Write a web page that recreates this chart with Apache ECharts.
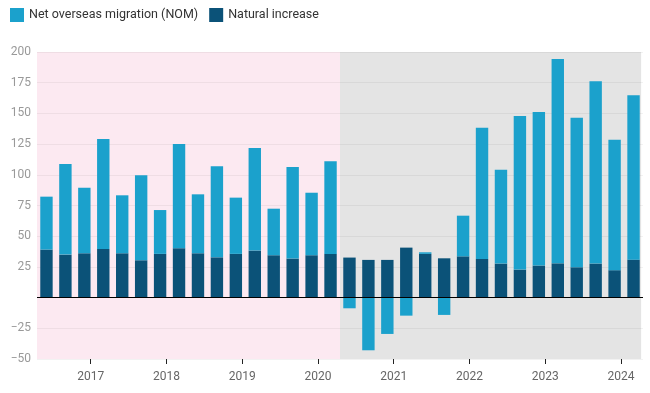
<!DOCTYPE html>
<html>
<head>
<meta charset="utf-8">
<script src="https://cdn.jsdelivr.net/npm/echarts@6/dist/echarts.min.js"></script>
<style>
html,body{margin:0;padding:0;background:#fff;}
#chart{width:650px;height:393px;}
</style>
</head>
<body>
<div id="chart"></div>
<script>
// Quarter (month the quarter ends) for each bar
const quarters = ['2016-06','2016-09','2016-12','2017-03','2017-06','2017-09','2017-12','2018-03',
  '2018-06','2018-09','2018-12','2019-03','2019-06','2019-09','2019-12','2020-03',
  '2020-06','2020-09','2020-12','2021-03','2021-06','2021-09','2021-12','2022-03',
  '2022-06','2022-09','2022-12','2023-03','2023-06','2023-09','2023-12','2024-03'];
const nom = [43.1,73.8,53.4,89.6,47.2,69.2,35.7,84.9,48.0,74.1,45.8,83.5,37.9,74.6,50.9,75.4,
  -8.7,-42.9,-29.6,-14.7,1.3,-14.1,33.1,106.9,76.5,125.1,125.0,166.4,121.8,148.4,106.3,133.8];
const natural = [39.1,35.0,36.1,39.6,36.1,30.4,35.6,40.2,36.1,32.8,35.6,38.3,34.5,31.8,34.5,35.6,
  32.6,30.7,30.7,40.7,35.6,32.0,33.6,31.5,27.7,22.8,26.1,27.9,24.7,27.7,22.3,30.9];
const seriesNames = ['Net overseas migration (NOM)', 'Natural increase'];
const yTicks = {min: -50, max: 200, interval: 25};
// Shaded periods, in months from the axis start (May 2016)
const periods = [[0, 48, '#fce9f1'], [48, 95.7, '#e4e4e4']];

// monthly axis slots: May 2016 .. Apr 2024
const months = [];
for (let y = 2016, m = 5; !(y === 2024 && m === 5); ) {
  months.push(y + '-' + String(m).padStart(2, '0'));
  m++; if (m > 12) { m = 1; y++; }
}
function toMonthly(vals) {
  const arr = months.map(() => null);
  quarters.forEach((q, i) => { arr[months.indexOf(q)] = vals[i]; });
  return arr;
}
const isJan = (idx, val) => /-01$/.test(val);

const chart = echarts.init(document.getElementById('chart'), null, {renderer: 'canvas'});
chart.setOption({
  animation: false,
  textStyle: {fontFamily: 'Roboto'},
  legend: {
    data: seriesNames,
    left: 5, top: 3,
    itemWidth: 14, itemHeight: 14, itemGap: 11,
    icon: 'rect',
    textStyle: {fontSize: 12.5, color: '#333', fontFamily: 'Roboto'}
  },
  grid: {left: 37, right: 7, top: 52, bottom: 34, containLabel: false},
  xAxis: [{
    type: 'category',
    data: months,
    boundaryGap: true,
    axisLine: {show: false, onZero: false},
    axisTick: {show: true, interval: isJan, alignWithLabel: true, length: 5, lineStyle: {color: '#222'}},
    axisLabel: {interval: isJan, formatter: v => v.slice(0, 4), color: '#666', fontSize: 12, margin: 12},
    splitLine: {show: false}
  }, {
    type: 'value', min: 0, max: 96, show: false
  }],
  yAxis: {
    type: 'value',
    min: yTicks.min, max: yTicks.max, interval: yTicks.interval,
    axisLine: {show: false}, axisTick: {show: false},
    axisLabel: {color: '#999', fontSize: 12, margin: 6,
      formatter: v => v === 0 ? '' : (v < 0 ? '\u2212' + Math.abs(v) : String(v))},
    splitLine: {lineStyle: {color: 'rgba(0,0,0,0.05)', width: 1}}
  },
  series: [{
    type: 'line', xAxisIndex: 1, data: [], silent: true, z: -1,
    markArea: {
      silent: true, z: -1,
      data: periods.map(p => [{xAxis: p[0], itemStyle: {color: p[2]}}, {xAxis: p[1]}])
    }
  }, {
    name: seriesNames[1], type: 'bar', stack: 'pop',
    data: toMonthly(natural), barWidth: 12.4,
    itemStyle: {color: '#0b5278'},
    markLine: {
      silent: true, symbol: 'none', label: {show: false},
      lineStyle: {color: '#000', width: 1, type: 'solid'},
      data: [{yAxis: 0}]
    }
  }, {
    name: seriesNames[0], type: 'bar', stack: 'pop',
    data: toMonthly(nom), barWidth: 12.4,
    itemStyle: {color: '#1ba1cc'}
  }]
});
</script>
</body>
</html>
